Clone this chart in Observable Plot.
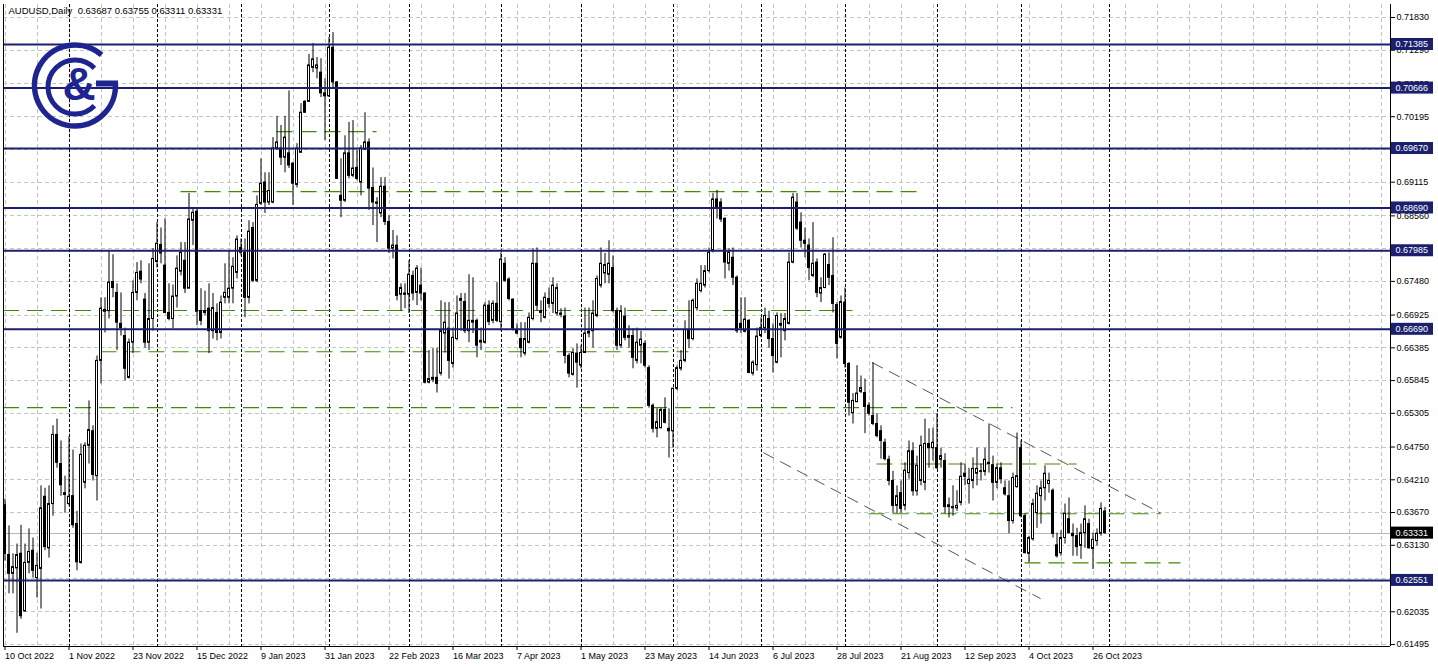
<!DOCTYPE html>
<html><head><meta charset="utf-8">
<script src="https://cdn.jsdelivr.net/npm/d3@7"></script>
<script src="https://cdn.jsdelivr.net/npm/@observablehq/plot@0.6"></script>
<style>
html,body{margin:0;padding:0;background:#fff;}
#chart{width:1438px;height:668px;}
</style></head><body><div id="chart"></div>
<script>
const title = "AUDUSD,Daily  0.63687 0.63755 0.63311 0.63331";

const open = [0.6379,0.6297,0.6266,0.6275,0.6299,0.6204,0.6284,0.6304,0.6259,0.6274,0.6393,0.6308,0.6381,0.6495,0.6447,0.6399,0.6381,0.6394,0.6348,0.6284,0.6416,0.6477,0.6501,0.6427,
0.6617,0.6701,0.6699,0.6747,0.6729,0.6678,0.6658,0.6589,0.6647,0.6729,0.6764,0.6718,0.6647,0.6686,0.6780,0.6808,0.6774,0.6696,0.6686,0.6723,0.6764,0.6782,
0.6736,0.6848,0.6863,0.6699,0.6696,0.6703,0.6666,0.6696,0.6663,0.6721,0.6721,0.6736,0.6762,0.6803,0.6795,0.6721,0.6836,0.6749,0.6876,0.6911,0.6878,0.6878,0.6967,0.6967,0.6952,0.6959,0.6942,0.6907,0.6960,0.7044,0.7044,0.7100,0.7099,0.7092,0.7058,0.7053,0.7133,0.7076,0.6889,0.6881,0.6959,0.6922,0.6935,0.6911,0.6965,0.6977,
0.6902,0.6878,0.6860,0.6904,0.6846,0.6802,0.6807,0.6726,0.6728,0.6726,0.6757,0.6729,0.6741,0.6728,0.6581,0.6586,0.6589,0.6596,0.6662,0.6670,0.6612,0.6653,0.6716,0.6714,0.6666,0.6683,0.6683,0.6647,0.6647,0.6708,0.6683,0.6711,0.6681,0.6777,0.6751,0.6718,0.6668,0.6653,0.6629,0.6647,0.6686,0.6777,0.6696,0.6688,0.6719,0.6711,
0.6695,0.6695,0.6690,0.6625,0.6594,0.6629,0.6609,0.6630,0.6662,0.6666,0.6691,0.6741,0.6761,0.6759,0.6770,0.6699,0.6642,0.6690,0.6655,0.6658,0.6617,0.6642,0.6645,0.6605,0.6543,0.6505,0.6506,0.6536,0.6505,0.6501,0.6571,0.6604,0.6617,0.6668,0.6653,0.6704,0.6732,0.6741,0.6765,0.6799,0.6883,0.6878,0.6851,0.6777,0.6787,0.6754,
0.6678,0.6665,0.6683,0.6596,0.6610,0.6658,0.6671,0.6686,0.6653,0.6614,0.6678,0.6666,0.6678,0.6779,0.6878,0.6845,0.6815,0.6807,0.6757,0.6779,0.6728,0.6737,0.6775,0.6757,0.6709,0.6655,0.6713,0.6612,0.6531,0.6549,0.6566,0.6564,0.6543,0.6526,0.6513,0.6501,0.6482,0.6454,
0.6419,0.6378,0.6399,0.6378,0.6432,0.6468,0.6402,0.6419,
0.6416,0.6480,0.6473,0.6473,0.6454,0.6452,0.6379,0.6374,0.6374,0.6383,0.6431,0.6414,0.6419,0.6431,0.6435,0.6434,0.6449,0.6445,0.6416,0.6440,0.6407,0.6394,0.6353,0.6409,0.6473,0.6361,0.6299,0.6323,0.6366,0.6394,0.6407,0.6414,0.6403,0.6313,0.6300,0.6325,0.6356,0.6332,0.6328,0.6312,0.6333,0.6348,0.6307,0.6320,0.6332,0.63687];

const high = [0.6389,0.6345,0.6299,0.6315,0.6346,0.6315,0.6340,0.6325,0.6300,0.6411,0.6407,0.6411,0.6510,0.6521,0.6485,0.6427,0.6492,0.6470,0.6369,0.6480,0.6482,0.6551,0.6510,0.6625,
0.6721,0.6721,0.6799,0.6792,0.6744,0.6729,0.6671,0.6653,0.6749,0.6779,0.6782,0.6728,0.6777,0.6802,0.6845,0.6836,0.6851,0.6744,0.6742,0.6790,0.6812,0.6812,
0.6893,0.6869,0.6869,0.6736,0.6732,0.6744,0.6728,0.6711,0.6724,0.6777,0.6799,0.6787,0.6823,0.6818,0.6818,0.6848,0.6845,0.6889,0.6950,0.6927,0.6927,0.6985,0.7020,0.7005,0.7020,0.7062,0.6944,0.6975,0.7041,0.7046,0.7122,0.7140,0.7117,0.7115,0.7082,0.7150,0.7158,0.7077,0.6950,0.6988,0.7010,0.7013,0.6964,0.6972,0.7026,0.6983,
0.6935,0.6886,0.6919,0.6919,0.6856,0.6832,0.6823,0.6744,0.6744,0.6782,0.6765,0.6774,0.6770,0.6729,0.6634,0.6637,0.6638,0.6716,0.6713,0.6713,0.6671,0.6724,0.6728,0.6728,0.6759,0.6754,0.6686,0.6671,0.6713,0.6716,0.6716,0.6746,0.6795,0.6787,0.6754,0.6719,0.6678,0.6680,0.6680,0.6696,0.6802,0.6803,0.6716,0.6729,0.6737,0.6754,
0.6744,0.6703,0.6704,0.6629,0.6637,0.6645,0.6642,0.6704,0.6704,0.6716,0.6757,0.6803,0.6794,0.6815,0.6790,0.6704,0.6708,0.6704,0.6675,0.6670,0.6671,0.6666,0.6650,0.6609,0.6546,0.6538,0.6539,0.6556,0.6538,0.6572,0.6609,0.6634,0.6683,0.6716,0.6719,0.6752,0.6774,0.6774,0.6803,0.6893,0.6898,0.6884,0.6853,0.6802,0.6803,0.6757,
0.6721,0.6721,0.6685,0.6617,0.6671,0.6688,0.6704,0.6699,0.6678,0.6696,0.6695,0.6695,0.6795,0.6893,0.6893,0.6861,0.6836,0.6818,0.6845,0.6785,0.6754,0.6794,0.6795,0.6820,0.6713,0.6724,0.6737,0.6614,0.6563,0.6609,0.6592,0.6587,0.6548,0.6614,0.6530,0.6510,0.6488,0.6460,
0.6435,0.6411,0.6419,0.6449,0.6485,0.6482,0.6460,0.6493,
0.6521,0.6505,0.6506,0.6530,0.6473,0.6464,0.6391,0.6411,0.6403,0.6449,0.6447,0.6440,0.6457,0.6473,0.6447,0.6473,0.6513,0.6460,0.6447,0.6449,0.6419,0.6419,0.6432,0.6498,0.6485,0.6365,0.6328,0.6389,0.6411,0.6419,0.6444,0.6432,0.6406,0.6333,0.6337,0.6381,0.6391,0.6348,0.6341,0.6348,0.6378,0.6356,0.6333,0.6340,0.6383,0.63755];

const low = [0.6287,0.6233,0.6233,0.6168,0.6191,0.6203,0.6266,0.6259,0.6226,0.6208,0.6304,0.6292,0.6361,0.6440,0.6394,0.6366,0.6378,0.6341,0.6271,0.6282,0.6406,0.6447,0.6419,0.6386,
0.6579,0.6663,0.6686,0.6721,0.6634,0.6658,0.6584,0.6587,0.6629,0.6716,0.6744,0.6638,0.6634,0.6666,0.6770,0.6777,0.6695,0.6683,0.6670,0.6704,0.6757,0.6728,
0.6736,0.6807,0.6675,0.6675,0.6691,0.6629,0.6653,0.6650,0.6653,0.6711,0.6711,0.6711,0.6752,0.6790,0.6688,0.6711,0.6746,0.6746,0.6873,0.6860,0.6873,0.6876,0.6964,0.6939,0.6927,0.6934,0.6873,0.6902,0.6959,0.7025,0.7043,0.7092,0.7082,0.7051,0.6980,0.7051,0.7066,0.6916,0.6853,0.6878,0.6917,0.6919,0.6914,0.6889,0.6964,0.6865,
0.6840,0.6812,0.6853,0.6840,0.6794,0.6785,0.6716,0.6699,0.6703,0.6695,0.6716,0.6708,0.6716,0.6579,0.6579,0.6581,0.6564,0.6592,0.6630,0.6587,0.6605,0.6650,0.6666,0.6662,0.6647,0.6662,0.6622,0.6634,0.6645,0.6675,0.6678,0.6680,0.6666,0.6746,0.6716,0.6666,0.6660,0.6622,0.6625,0.6645,0.6683,0.6699,0.6680,0.6686,0.6704,0.6695,
0.6691,0.6688,0.6612,0.6589,0.6592,0.6572,0.6604,0.6629,0.6655,0.6638,0.6688,0.6737,0.6744,0.6744,0.6696,0.6634,0.6638,0.6650,0.6638,0.6604,0.6612,0.6612,0.6605,0.6539,0.6498,0.6490,0.6505,0.6513,0.6457,0.6473,0.6568,0.6600,0.6614,0.6637,0.6650,0.6699,0.6729,0.6737,0.6762,0.6795,0.6851,0.6845,0.6752,0.6765,0.6741,0.6662,
0.6662,0.6663,0.6596,0.6592,0.6600,0.6655,0.6662,0.6638,0.6597,0.6612,0.6622,0.6650,0.6676,0.6777,0.6832,0.6803,0.6787,0.6749,0.6754,0.6721,0.6713,0.6736,0.6741,0.6696,0.6620,0.6653,0.6605,0.6526,0.6513,0.6548,0.6563,0.6497,0.6526,0.6510,0.6490,0.6455,0.6452,0.6411,
0.6366,0.6365,0.6366,0.6370,0.6422,0.6394,0.6394,0.6411,
0.6403,0.6440,0.6452,0.6438,0.6440,0.6365,0.6358,0.6361,0.6369,0.6378,0.6411,0.6381,0.6406,0.6411,0.6419,0.6427,0.6432,0.6386,0.6406,0.6414,0.6394,0.6332,0.6348,0.6407,0.6358,0.6299,0.6284,0.6320,0.6341,0.6348,0.6386,0.6399,0.6325,0.6292,0.6295,0.6315,0.6332,0.6295,0.6295,0.6290,0.6308,0.6307,0.6273,0.6312,0.6328,0.63311];

const close = [0.6299,0.6266,0.6277,0.6297,0.6196,0.6284,0.6302,0.6271,0.6279,0.6374,0.6310,0.6381,0.6495,0.6449,0.6412,0.6396,0.6393,0.6346,0.6285,0.6462,0.6477,0.6503,0.6429,0.6617,
0.6703,0.6698,0.6746,0.6737,0.6680,0.6671,0.6604,0.6647,0.6729,0.6762,0.6751,0.6647,0.6686,0.6785,0.6810,0.6794,0.6696,0.6686,0.6723,0.6769,0.6795,0.6736,
0.6850,0.6861,0.6698,0.6683,0.6699,0.6666,0.6704,0.6663,0.6713,0.6729,0.6736,0.6772,0.6817,0.6795,0.6721,0.6830,0.6749,0.6874,0.6909,0.6878,0.6897,0.6967,0.6977,0.6952,0.6985,0.6939,0.6909,0.6967,0.7026,0.7026,0.7104,0.7114,0.7104,0.7058,0.7053,0.7133,0.7076,0.6917,0.6881,0.6959,0.6922,0.6934,0.6917,0.6967,0.6977,0.6901,
0.6878,0.6876,0.6904,0.6846,0.6802,0.6807,0.6724,0.6737,0.6726,0.6759,0.6728,0.6769,0.6728,0.6581,0.6587,0.6589,0.6579,0.6666,0.6680,0.6617,0.6655,0.6695,0.6719,0.6666,0.6683,0.6680,0.6642,0.6650,0.6708,0.6681,0.6711,0.6683,0.6784,0.6749,0.6719,0.6670,0.6662,0.6638,0.6653,0.6688,0.6777,0.6708,0.6699,0.6721,0.6711,0.6741,
0.6737,0.6693,0.6625,0.6596,0.6630,0.6614,0.6630,0.6662,0.6665,0.6695,0.6752,0.6777,0.6775,0.6777,0.6699,0.6642,0.6699,0.6655,0.6658,0.6622,0.6647,0.6652,0.6609,0.6543,0.6505,0.6516,0.6536,0.6515,0.6501,0.6571,0.6605,0.6617,0.6668,0.6653,0.6716,0.6744,0.6744,0.6765,0.6795,0.6883,0.6869,0.6850,0.6779,0.6795,0.6754,0.6666,
0.6671,0.6685,0.6597,0.6614,0.6657,0.6671,0.6691,0.6653,0.6625,0.6691,0.6675,0.6686,0.6779,0.6886,0.6835,0.6815,0.6810,0.6770,0.6777,0.6729,0.6737,0.6792,0.6754,0.6711,0.6645,0.6714,0.6612,0.6548,0.6551,0.6563,0.6572,0.6541,0.6530,0.6513,0.6493,0.6485,0.6455,0.6419,
0.6378,0.6394,0.6373,0.6436,0.6468,0.6402,0.6444,0.6477,
0.6480,0.6473,0.6482,0.6440,0.6460,0.6376,0.6376,0.6376,0.6378,0.6426,0.6426,0.6421,0.6439,0.6439,0.6434,0.6454,0.6447,0.6416,0.6440,0.6422,0.6397,0.6353,0.6424,0.6427,0.6361,0.6300,0.6325,0.6381,0.6398,0.6407,0.6431,0.6419,0.6332,0.6295,0.6325,0.6365,0.6333,0.6328,0.6310,0.6333,0.6356,0.6308,0.6322,0.6332,0.6373,0.63331];

const dateLabels = ["10 Oct 2022","1 Nov 2022","23 Nov 2022","15 Dec 2022","9 Jan 2023","31 Jan 2023","22 Feb 2023","16 Mar 2023","7 Apr 2023","1 May 2023","23 May 2023","14 Jun 2023","6 Jul 2023","28 Jul 2023","21 Aug 2023","12 Sep 2023","4 Oct 2023","26 Oct 2023"];
const dateLabelBars = [0,16,32,48,64,80,96,112,128,144,160,176,192,208,224,240,256,272];
const monthStartBars = [16,38,59,81,101,124,144,167,189,210,233,254,276];
const gridBars = [0,8,16,24,32,40,48,56,64,72,80,88,96,104,112,120,128,136,144,152,160,168,176,184,192,200,208,216,224,232,240,248,256,264,272,280,288,296,304,312,320,328,336,344];
const priceTicks = [0.71830,0.71290,0.70735,0.70195,0.69655,0.69115,0.68560,0.68020,0.67480,0.66925,0.66385,0.65845,0.65305,0.64750,0.64210,0.63670,0.63130,0.62590,0.62035,0.61495];
const coveredTicks = [0.69655,0.68020,0.62590];
const levels = [0.71385,0.70666,0.69670,0.68690,0.67985,0.66690,0.62551];
const lastPrice = 0.63331;
const greenLevels = [0.6995,0.6896,0.6700,0.6632,0.6540,0.6447,0.6365,0.6284];
const greenFrom = [68,44,-0.375,24,-0.375,218,216,255];
const greenTo = [93,228,212,171,252,268,289,294];
const channelFromBar = [216.8,189.6];
const channelToBar = [288.9,258.9];
const channelFromPrice = [0.66142,0.64657];
const channelToPrice = [0.63662,0.62251];

const xDomain = [-0.375, 346.375];
const yDomain = [0.61462, 0.72044];
const navy = "#1b1f6e";
const logoBlue = "#1f2590";
const green = "#3f8a00";

const rows = open.map((o, i) => ({i, open: o, high: high[i], low: low[i], close: close[i]}));
const bull = rows.filter(d => d.close >= d.open);
const bear = rows.filter(d => d.close < d.open);
const greens = greenLevels.map((p, k) => ({p, a: greenFrom[k], b: greenTo[k]}));
const channels = channelFromBar.map((b, k) => ({x1: b, x2: channelToBar[k], y1: channelFromPrice[k], y2: channelToPrice[k]}));
const labelMap = new Map(dateLabelBars.map((b, k) => [b, dateLabels[k]]));
const labelTicks = priceTicks.filter(t => !coveredTicks.includes(t));
const font = "'Liberation Sans', Arial, sans-serif";

const chart = Plot.plot({
  width: 1438, height: 668,
  marginTop: 4, marginBottom: 22, marginLeft: 3, marginRight: 48,
  style: {fontFamily: font, fontSize: "9px", background: "white", color: "black", overflow: "visible"},
  x: {domain: xDomain},
  y: {domain: yDomain},
  marks: [
    Plot.gridY(priceTicks, {stroke: "#c4c4c4", strokeOpacity: 1, strokeDasharray: "4,3", shapeRendering: "crispEdges"}),
    Plot.gridX(gridBars, {stroke: "#c4c4c4", strokeOpacity: 1, strokeDasharray: "4,3", shapeRendering: "crispEdges"}),
    Plot.ruleX(monthStartBars, {stroke: "black", strokeDasharray: "3,2", shapeRendering: "crispEdges"}),
    Plot.ruleY([lastPrice], {stroke: "#b8b8b8", shapeRendering: "crispEdges"}),
    Plot.ruleY(greens, {y: "p", x1: "a", x2: "b", stroke: green, strokeWidth: 1.2, strokeDasharray: "16,8"}),
    Plot.link(channels, {x1: "x1", y1: "y1", x2: "x2", y2: "y2", stroke: "#555", strokeDasharray: "12,7"}),
    Plot.ruleX(rows, {x: "i", y1: "low", y2: "high", stroke: "black"}),
    Plot.rect(bull, {x1: d => d.i - 0.25, x2: d => d.i + 0.25, y1: "open", y2: "close", fill: "white", stroke: "black"}),
    Plot.rect(bear, {x1: d => d.i - 0.25, x2: d => d.i + 0.25, y1: "open", y2: "close", fill: "black", stroke: "black"}),
    Plot.ruleY(levels, {stroke: navy, strokeWidth: 2}),
    Plot.ruleX(xDomain, {stroke: "black"}),
    Plot.ruleY([yDomain[0]], {stroke: "black"}),
    Plot.axisY({anchor: "right", ticks: labelTicks, tickFormat: d => d.toFixed(5), tickSize: 4, tickPadding: 2, fontSize: 9, label: null}),
    Plot.axisX({anchor: "bottom", ticks: dateLabelBars, tickFormat: d => labelMap.get(d), textAnchor: "start", tickSize: 4, tickPadding: 2, fontSize: 9, label: null}),
    Plot.text([title], {text: d => d, frameAnchor: "top-left", dx: 5, dy: 6, textAnchor: "start", lineAnchor: "middle", fontSize: 9.5, fill: "black"})
  ]
});

const ys = chart.scale("y");
const svg = d3.select(chart);
const g = svg.append("g").attr("font-family", font).attr("font-size", 9).attr("text-anchor", "start");
function box(v, fill) {
  const yy = ys.apply(v);
  g.append("rect").attr("x", 1391).attr("y", yy - 6).attr("width", 42).attr("height", 12).attr("fill", fill);
  g.append("text").attr("x", 1395.5).attr("y", yy).attr("dy", "0.35em").attr("text-anchor", "start").attr("fill", "white").text(v.toFixed(5));
}
levels.forEach(v => box(v, navy));
box(lastPrice, "black");

// logo
const lg = svg.append("g").attr("fill", "none").attr("stroke", logoBlue);
function pt(cx, cy, r, a) { const t = a * Math.PI / 180; return [cx + r * Math.cos(t), cy - r * Math.sin(t)]; }
{
  const [sx, sy] = pt(75, 85.5, 40.5, 49), [ex, ey] = pt(75, 85.5, 40.5, 2);
  lg.append("path").attr("d", `M${sx},${sy} A40.5,40.5 0 1 0 ${ex},${ey}`).attr("stroke-width", 5.5);
  lg.append("path").attr("d", "M96,83.5 H118").attr("stroke-width", 6);
  const [ix, iy] = pt(75, 87, 27, 44), [jx, jy] = pt(75, 87, 27, 316);
  lg.append("path").attr("d", `M${ix},${iy} A27,27 0 1 0 ${jx},${jy}`).attr("stroke-width", 5);
  svg.append("text").attr("x", 79).attr("y", 100).attr("text-anchor", "middle").attr("font-family", font)
    .attr("font-weight", "bold").attr("font-size", 46).attr("fill", logoBlue).text("&");
}

document.getElementById("chart").appendChild(chart);
</script></body></html>
